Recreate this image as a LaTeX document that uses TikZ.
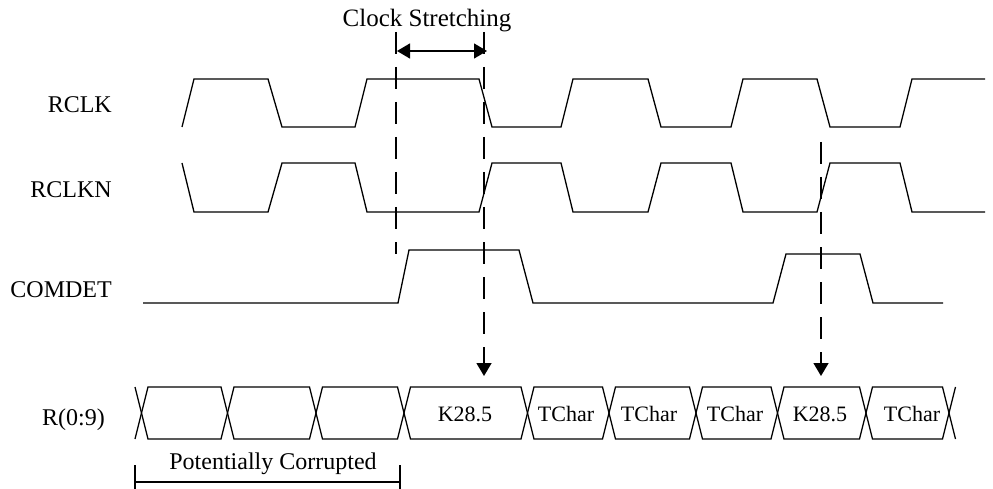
\documentclass[tikz,border=0pt]{standalone}
\usepackage{fontspec}
\setmainfont{Liberation Serif}
\usepackage{tikz}
\usetikzlibrary{arrows.meta}
\usetikzlibrary{positioning}

\begin{document}
\begin{tikzpicture}[x=1pt,y=-1pt,>={Triangle[length=13pt,width=15pt]},
wave/.style={line width=1.3pt,line join=miter},
guide/.style={line width=1.5pt,dash pattern=on 22pt off 13pt},
sig/.style={anchor=base east,font=\fontsize{24}{28}\selectfont},
word/.style={font=\fontsize{22}{26}\selectfont}]
\tikzstyle{every node}=[inner sep=0pt]
\useasboundingbox (0,0) rectangle (993,489);

\node (RCLK) [sig, xshift=112pt, yshift=-113pt] {RCLK};
\node (RCLKN) [sig, xshift=112pt, yshift=-197pt] {RCLKN};
\node (COMDET) [sig, xshift=112pt, yshift=-297pt] {COMDET};
\node (Rbus) [sig, xshift=105pt, yshift=-425pt] {R(0:9)};
\node (Stretch) [anchor=base, xshift=427pt, yshift=-27pt,
font=\fontsize{25}{30}\selectfont] {Clock Stretching};
\node (Corrupt) [anchor=base, xshift=273pt, yshift=-469pt,
font=\fontsize{24}{28}\selectfont] {Potentially Corrupted};

% clocks
\draw[wave] (182,127)--(194,79)--(268,79)--(282,127)--(355,127)--(367,79)--(479,79)--(492,127)
--(561,127)--(573,79)--(648,79)--(661,127)--(731,127)--(743,79)--(817,79)--(830,127)
--(900,127)--(912,79)--(985,79);
\draw[wave] (182,163)--(194,212)--(268,212)--(282,163)--(355,163)--(367,212)--(479,212)--(492,163)
--(561,163)--(573,212)--(648,212)--(661,163)--(731,163)--(743,212)--(817,212)--(830,163)
--(900,163)--(912,212)--(985,212);
% comma detect
\draw[wave] (143,303)--(398,303)--(409,250)--(519,250)--(533,303)--(773,303)--(786,254)
--(860,254)--(873,303)--(943,303);

\begin{scope}
\draw[wave] (141.5,413)--(135,387) (141.5,413)--(135,439);
\draw[wave] (141.5,413)--(148,387)--(221,387)--(227.5,413)--(221,439)--(148,439)--cycle;
\draw[wave] (227.5,413)--(234,387)--(309.5,387)--(316,413)--(309.5,439)--(234,439)--cycle;
\draw[wave] (316,413)--(322.5,387)--(397.5,387)--(404,413)--(397.5,439)--(322.5,439)--cycle;
\draw[wave] (404,413)--(410.5,387)--(521,387)--(527.5,413)--(521,439)--(410.5,439)--cycle;
\draw[wave] (527.5,413)--(534,387)--(602.5,387)--(609,413)--(602.5,439)--(534,439)--cycle;
\draw[wave] (609,413)--(615.5,387)--(689.5,387)--(696,413)--(689.5,439)--(615.5,439)--cycle;
\draw[wave] (696,413)--(702.5,387)--(771,387)--(777.5,413)--(771,439)--(702.5,439)--cycle;
\draw[wave] (777.5,413)--(784,387)--(859.5,387)--(866,413)--(859.5,439)--(784,439)--cycle;
\draw[wave] (866,413)--(872.5,387)--(942.5,387)--(949,413)--(942.5,439)--(872.5,439)--cycle;
\draw[wave] (949,413)--(955.5,387) (949,413)--(955.5,439);

\node (k1) [word, xshift=465pt, yshift=-414pt] {K28.5};
\node (t1) [word, xshift=566pt, yshift=-414pt] {TChar};
\node (t2) [word, xshift=649pt, yshift=-414pt] {TChar};
\node (t3) [word, xshift=735pt, yshift=-414pt] {TChar};
\node (k2) [word, xshift=820pt, yshift=-414pt] {K28.5};
\node (t4) [word, xshift=912pt, yshift=-414pt] {TChar};
\end{scope}

% stretching markers
\coordinate (s1) at (396,32); \coordinate (e1) at (396,254);
\coordinate (s2) at (484,32); \coordinate (e2) at (484,376);
\coordinate (s3) at (821,142); \coordinate (e3) at (821,376);
\coordinate (w1) at (397,51); \coordinate (w2) at (487,51);
\draw[guide] (s1)--(e1);
\draw[guide,->] (s2)--(e2);
\draw[guide,->] (s3)--(e3);
\draw[wave,<->] (w1)--(w2);

% bracket
\coordinate (b1) at (135,482); \coordinate (b2) at (400,482);
\draw[wave] (135,465)--(b1)--(b2)--(400,465) (b1)--(135,489) (b2)--(400,489);
\end{tikzpicture}
\end{document}
